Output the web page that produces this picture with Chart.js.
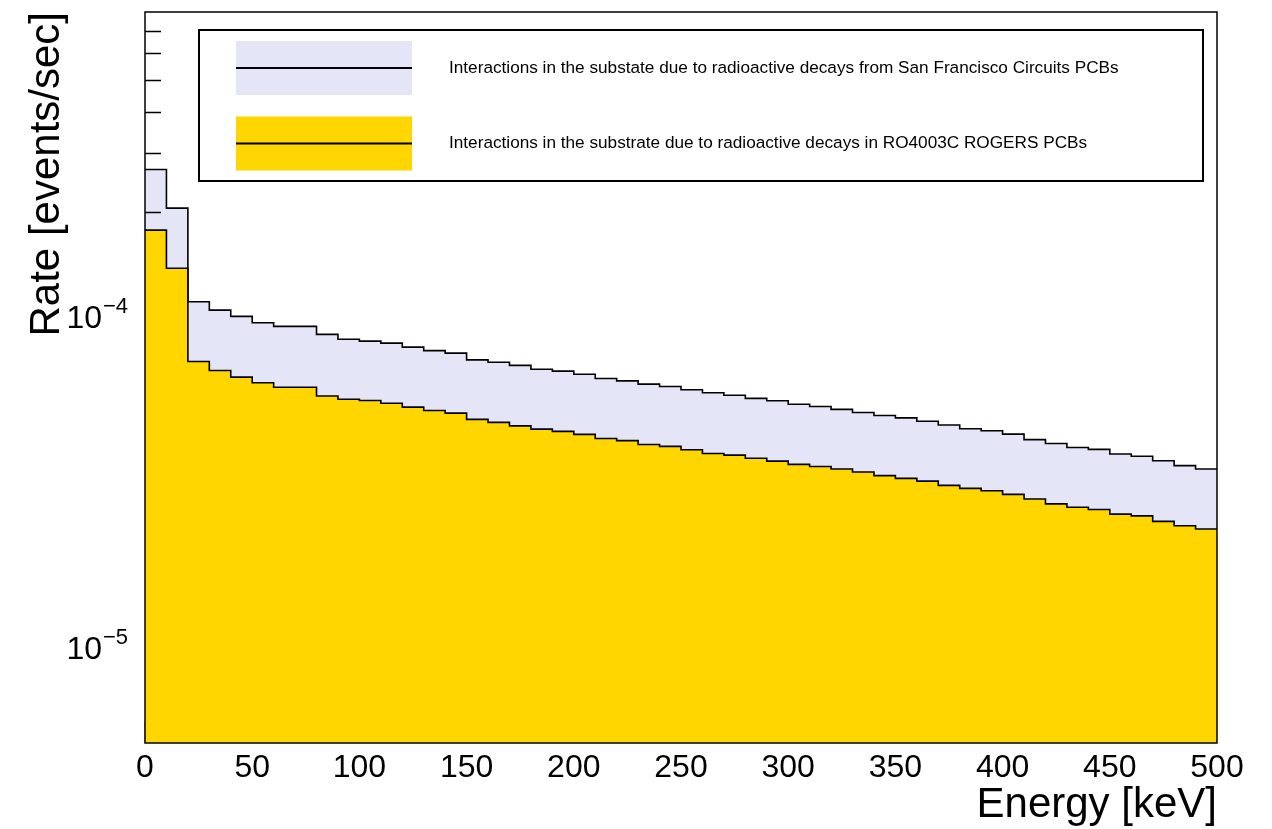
<!DOCTYPE html>
<html>
<head>
<meta charset="utf-8">
<title>Rate vs Energy</title>
<script src="https://cdn.jsdelivr.net/npm/chart.js@4.4.1/dist/chart.umd.min.js"></script>
<style>
  html, body { margin: 0; padding: 0; background: #fff; }
  canvas { display: block; }
</style>
</head>
<body>
<canvas id="rateChart" width="1272" height="829"></canvas>
<script>
// --- DATOS ---
// low edge of each 10 keV bin
const binEdges = [0, 10, 20, 30, 40, 50, 60, 70, 80, 90,
  100, 110, 120, 130, 140, 150, 160, 170, 180, 190,
  200, 210, 220, 230, 240, 250, 260, 270, 280, 290,
  300, 310, 320, 330, 340, 350, 360, 370, 380, 390,
  400, 410, 420, 430, 440, 450, 460, 470, 480, 490];
const lastEdge = 500;

// RO4003C ROGERS (bottom of the stack)
const rogersRate = [1.76e-4, 1.35e-4, 7.07e-5, 6.64e-5, 6.34e-5, 6.10e-5, 5.91e-5, 5.91e-5, 5.56e-5, 5.44e-5,
  5.39e-5, 5.29e-5, 5.15e-5, 5.03e-5, 4.94e-5, 4.73e-5, 4.63e-5, 4.52e-5, 4.42e-5, 4.35e-5,
  4.26e-5, 4.14e-5, 4.08e-5, 3.97e-5, 3.92e-5, 3.83e-5, 3.73e-5, 3.69e-5, 3.61e-5, 3.54e-5,
  3.46e-5, 3.41e-5, 3.35e-5, 3.28e-5, 3.20e-5, 3.14e-5, 3.08e-5, 2.99e-5, 2.93e-5, 2.88e-5,
  2.81e-5, 2.72e-5, 2.63e-5, 2.57e-5, 2.53e-5, 2.45e-5, 2.42e-5, 2.33e-5, 2.26e-5, 2.21e-5];

// San Francisco Circuits (stacked on top)
const sfcRate = [9.2e-5, 7.0e-5, 3.63e-5, 3.46e-5, 3.33e-5, 3.15e-5, 3.11e-5, 3.11e-5, 2.97e-5, 2.81e-5,
  2.75e-5, 2.74e-5, 2.66e-5, 2.59e-5, 2.55e-5, 2.42e-5, 2.40e-5, 2.36e-5, 2.28e-5, 2.26e-5,
  2.21e-5, 2.14e-5, 2.10e-5, 2.07e-5, 2.02e-5, 1.98e-5, 1.96e-5, 1.90e-5, 1.86e-5, 1.84e-5,
  1.79e-5, 1.76e-5, 1.72e-5, 1.68e-5, 1.66e-5, 1.64e-5, 1.59e-5, 1.56e-5, 1.50e-5, 1.49e-5,
  1.46e-5, 1.39e-5, 1.37e-5, 1.32e-5, 1.31e-5, 1.27e-5, 1.24e-5, 1.22e-5, 1.17e-5, 1.14e-5];

const xTicks = [0, 50, 100, 150, 200, 250, 300, 350, 400, 450, 500];
const yDecades = [1e-5, 1e-4];
const yMin = 5e-6;
const yMax = 8e-4;

const sfcLabel = "Interactions in the substate due to radioactive decays from San Francisco Circuits PCBs";
const rogersLabel = "Interactions in the substrate due to radioactive decays in RO4003C ROGERS PCBs";

const FONT = "'Liberation Sans', Arial, Helvetica, sans-serif";

// --- HISTOGRAMAS (puntos en los bordes, escalonado) ---
function stepPoints(vals) {
    const pts = binEdges.map((x, i) => ({ x: x, y: vals[i] }));
    pts.push({ x: lastEdge, y: vals[vals.length - 1] });
    return pts;
}
const stackTop = rogersRate.map((v, i) => v + sfcRate[i]);

// ticks pintados tras el relleno lavanda y antes del amarillo (como ROOT)
const rootTicks = {
    id: 'rootTicks',
    afterDatasetDraw(chart, args) {
        if (args.index !== 1) return;
        const { ctx, chartArea: a, scales: { x, y } } = chart;
        ctx.save();
        ctx.strokeStyle = '#000';
        ctx.lineWidth = 1.5;
        ctx.beginPath();
        for (let e = -6; e <= -3; e++) {
            for (let m = 1; m <= 9; m++) {
                const v = m * Math.pow(10, e);
                if (v < yMin || v > yMax * 0.999) continue;
                const py = Math.round(y.getPixelForValue(v)) + 0.5;
                ctx.moveTo(a.left, py);
                ctx.lineTo(a.left + (m === 1 ? 32 : 16), py);
            }
        }
        binEdges.forEach(v => {
            const px = Math.round(x.getPixelForValue(v)) + 0.5;
            ctx.moveTo(px, a.bottom);
            ctx.lineTo(px, a.bottom - (v % 50 === 0 ? 22 : 11));
        });
        ctx.stroke();
        ctx.restore();
    },
    afterDatasetsDraw(chart) {
        const { ctx, chartArea: a } = chart;
        ctx.save();
        ctx.strokeStyle = '#000';
        ctx.lineWidth = 1.5;
        ctx.strokeRect(a.left, a.top, a.right - a.left, a.bottom - a.top);
        ctx.restore();
    }
};

// etiquetas 10^n con superíndice
const decadeLabels = {
    id: 'decadeLabels',
    afterDraw(chart) {
        const { ctx, scales: { y } } = chart;
        ctx.save();
        ctx.fillStyle = '#000';
        yDecades.forEach(v => {
            const py = y.getPixelForValue(v);
            const exp = Math.round(Math.log10(v));
            ctx.font = `32px ${FONT}`;
            ctx.textAlign = 'right';
            ctx.textBaseline = 'alphabetic';
            ctx.fillText('10', 102, py + 16);
            ctx.font = `22px ${FONT}`;
            ctx.textAlign = 'left';
            ctx.fillText('\u2212' + Math.abs(exp), 103, py + 1);
        });
        ctx.restore();
    }
};

// leyenda estilo ROOT
const rootLegend = {
    id: 'rootLegend',
    afterDraw(chart) {
        const { ctx } = chart;
        const box = { x: 199, y: 30, w: 1004, h: 151 };
        const order = [1, 0];
        const rowY = [68, 143.5];
        ctx.save();
        ctx.strokeStyle = '#000';
        ctx.lineWidth = 2;
        ctx.fillStyle = '#fff';
        ctx.fillRect(box.x, box.y, box.w, box.h);
        ctx.strokeRect(box.x, box.y, box.w, box.h);
        order.forEach((di, r) => {
            const ds = chart.data.datasets[di];
            const cy = rowY[r];
            ctx.fillStyle = ds.backgroundColor;
            ctx.fillRect(236, cy - 27, 176, 54);
            ctx.beginPath();
            ctx.moveTo(236, cy);
            ctx.lineTo(412, cy);
            ctx.lineWidth = 2;
            ctx.strokeStyle = '#000';
            ctx.stroke();
            ctx.fillStyle = '#000';
            ctx.font = `17.2px ${FONT}`;
            ctx.textAlign = 'left';
            ctx.textBaseline = 'middle';
            ctx.fillText(ds.label, 449, cy);
        });
        ctx.restore();
    }
};

const chart = new Chart(document.getElementById('rateChart'), {
    type: 'line',
    data: {
        datasets: [
            {
                label: rogersLabel,
                data: stepPoints(rogersRate),
                stepped: 'before',
                borderColor: '#000',
                borderWidth: 1.6,
                backgroundColor: 'rgb(255, 214, 0)',
                fill: 'start',
                pointRadius: 0
            },
            {
                label: sfcLabel,
                data: stepPoints(stackTop),
                stepped: 'before',
                borderColor: '#000',
                borderWidth: 1.6,
                backgroundColor: 'rgb(229, 229, 248)',
                fill: 'start',
                pointRadius: 0
            }
        ]
    },
    options: {
        responsive: false,
        devicePixelRatio: 1,
        animation: false,
        layout: { padding: { top: 12, right: 55, left: 0, bottom: 0 } },
        plugins: {
            legend: { display: false },
            tooltip: { enabled: false }
        },
        scales: {
            x: {
                type: 'linear',
                min: 0,
                max: 500,
                afterBuildTicks: s => { s.ticks = xTicks.map(v => ({ value: v })); },
                afterFit: s => { s.height = 86; },
                grid: { display: false, drawTicks: false },
                border: { display: false },
                ticks: { color: '#000', padding: 6, maxRotation: 0, font: { family: FONT, size: 32 } },
                title: {
                    display: true,
                    text: 'Energy [keV]',
                    align: 'end',
                    color: '#000',
                    padding: { top: 0, bottom: -2 },
                    font: { family: FONT, size: 42 }
                }
            },
            y: {
                type: 'logarithmic',
                min: yMin,
                max: yMax,
                afterFit: s => { s.width = 145; },
                grid: { display: false, drawTicks: false },
                border: { display: false },
                ticks: { display: false },
                title: {
                    display: true,
                    text: 'Rate [events/sec]',
                    align: 'end',
                    color: '#000',
                    padding: { top: 22, bottom: 0 },
                    font: { family: FONT, size: 42 }
                }
            }
        }
    },
    plugins: [rootTicks, decadeLabels, rootLegend]
});
</script>
</body>
</html>
